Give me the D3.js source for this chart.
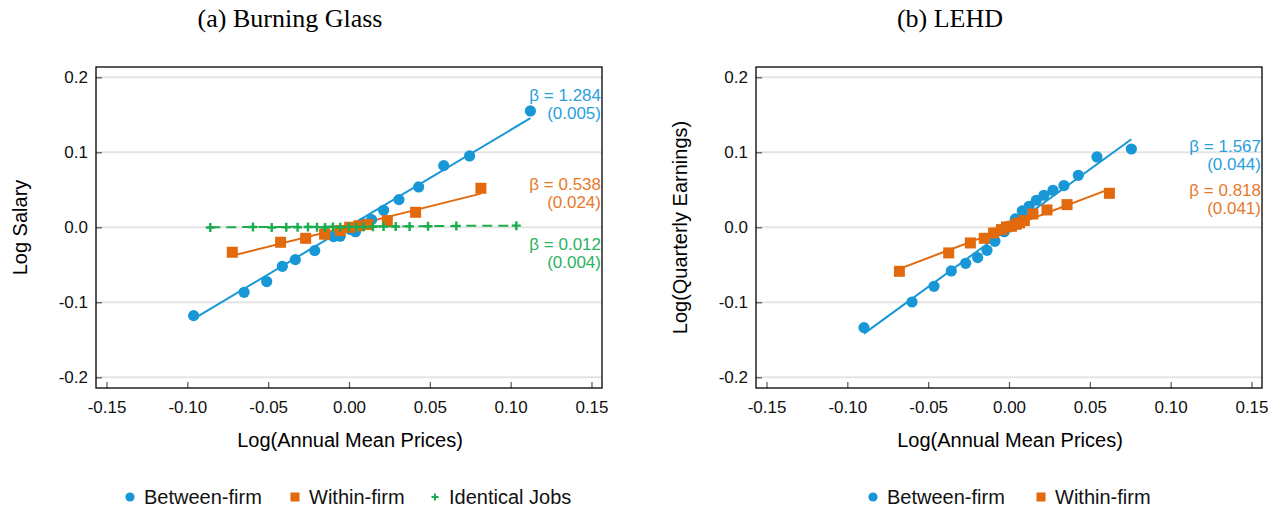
<!DOCTYPE html>
<html>
<head>
<meta charset="utf-8">
<script src="https://cdn.jsdelivr.net/npm/d3@7"></script>
<style>
  body { margin: 0; background: #fff; }
  text { font-family: "Liberation Sans", Arial, sans-serif; }
</style>
</head>
<body>
<script>
// tick values
var xTicks = [-0.15, -0.10, -0.05, 0.00, 0.05, 0.10, 0.15];
var yTicks = [-0.2, -0.1, 0.0, 0.1, 0.2];

// (a) Burning Glass binned scatter
var bgBetween = [[-0.0961,-0.1178],[-0.0649,-0.0867],[-0.0509,-0.0724],[-0.0412,-0.0520],[-0.0332,-0.0431],
  [-0.0212,-0.0311],[-0.0095,-0.0125],[-0.0055,-0.0120],[0.0010,-0.0030],[0.0040,-0.0060],[0.0085,0.0050],
  [0.0140,0.0102],[0.0214,0.0227],[0.0309,0.0369],[0.0431,0.0538],[0.0586,0.0822],[0.0746,0.0951],[0.1122,0.1551]];
var bgWithin = [[-0.0722,-0.0333],[-0.0423,-0.0200],[-0.0268,-0.0147],[-0.0151,-0.0093],[-0.0054,-0.0044],
  [0.0004,0.0000],[0.0060,0.0020],[0.0118,0.0036],[0.0237,0.0089],[0.0412,0.0200],[0.0816,0.0520]];
var bgIdentical = [[-0.0858,-0.0003],[-0.0594,0.0003],[-0.0478,-0.0002],[-0.0388,0.0001],[-0.0318,0.0000],
  [-0.0254,0.0004],[-0.0198,0.0002],[-0.0148,-0.0002],[-0.0099,0.0003],[-0.0054,0.0001],[0.0000,0.0005],
  [0.0045,0.0004],[0.0091,0.0006],[0.0148,0.0007],[0.0214,0.0010],[0.0289,0.0011],[0.0375,0.0012],
  [0.0489,0.0013],[0.0664,0.0018],[0.1035,0.0022]];
var bgBeta = [1.284, 0.538, 0.012];
var bgSE = [0.005, 0.024, 0.004];
var bgIntercept = [0.0014, 0.0010, 0.0010];

// (b) LEHD binned scatter
var lehdBetween = [[-0.0897,-0.1338],[-0.0600,-0.0996],[-0.0464,-0.0787],[-0.0357,-0.0582],[-0.0268,-0.0480],
  [-0.0194,-0.0404],[-0.0136,-0.0307],[-0.0087,-0.0187],[-0.0030,-0.0060],[0.0005,0.0015],[0.0039,0.0111],
  [0.0082,0.0218],[0.0124,0.0280],[0.0169,0.0360],[0.0216,0.0427],[0.0272,0.0493],[0.0340,0.0556],
  [0.0429,0.0693],[0.0544,0.0938],[0.0757,0.1044]];
var lehdWithin = [[-0.0678,-0.0587],[-0.0373,-0.0342],[-0.0239,-0.0209],[-0.0153,-0.0147],[-0.0095,-0.0076],
  [-0.0047,-0.0031],[-0.0016,0.0005],[0.0015,0.0013],[0.0045,0.0040],[0.0066,0.0059],[0.0095,0.0090],
  [0.0148,0.0178],[0.0235,0.0231],[0.0359,0.0302],[0.0621,0.0453]];
var lehdBeta = [1.567, 0.818];
var lehdSE = [0.044, 0.041];
var lehdIntercept = [-0.0012, 0.0000];

var seriesNames = ['Between-firm', 'Within-firm', 'Identical Jobs'];

/**************************************/

var width = 1288, height = 514;
var colors = ['#1897d6', '#e2690c', '#19ad50'];
var labelColors = ['#2aa0dc', '#e8792a', '#2bb35e'];

var svg = d3.select('body').append('svg')
    .attr('width', width)
    .attr('height', height);

function drawPanel(ox, title, titleX, yLabel, series, betas, ses, intercepts, labelY, legendX) {
    var x0 = ox + 96, x1 = ox + 602, y0 = 67, y1 = 388;
    var x = d3.scaleLinear().domain([-0.1565, 0.1565]).range([x0, x1]);
    var y = d3.scaleLinear().domain([-0.2143, 0.2137]).range([y1, y0]);

    var g = svg.append('g');

    // title
    g.append('text')
        .attr('x', titleX).attr('y', 27)
        .attr('text-anchor', 'middle')
        .style('font-family', '"Palatino Linotype", "Liberation Serif", serif')
        .style('font-size', '26px')
        .text(title);

    // gridlines
    g.selectAll('line.grid').data(yTicks).enter().append('line')
        .attr('class', 'grid')
        .attr('x1', x0).attr('x2', x1)
        .attr('y1', function(d) { return y(d); })
        .attr('y2', function(d) { return y(d); })
        .attr('stroke', '#e4e4e4')
        .attr('stroke-width', 2);

    // axes, ticks pointing inward
    var ax = g.append('g')
        .attr('transform', 'translate(0,' + y1 + ')')
        .call(d3.axisBottom(x).tickValues(xTicks).tickSize(-6).tickPadding(13)
            .tickFormat(d3.format('.2f')));
    var ay = g.append('g')
        .attr('transform', 'translate(' + x0 + ',0)')
        .call(d3.axisLeft(y).tickValues(yTicks).tickSize(-6).tickPadding(8)
            .tickFormat(d3.format('.1f')));
    [ax, ay].forEach(function(a) {
        a.select('.domain').remove();
        a.selectAll('line').attr('stroke', '#555').attr('stroke-width', 1.2);
        a.selectAll('text').style('font-size', '17px').attr('fill', '#111')
            .style('font-family', '"Liberation Sans", Arial, sans-serif');
    });
    ax.selectAll('text').text(function(d) { return d3.format('.2f')(d).replace('−', '-'); });
    ay.selectAll('text').text(function(d) { return d3.format('.1f')(d).replace('−', '-'); });

    // frame
    g.append('rect')
        .attr('x', x0).attr('y', y0)
        .attr('width', x1 - x0).attr('height', y1 - y0)
        .attr('fill', 'none')
        .attr('stroke', '#000')
        .attr('stroke-width', 1.3);

    // axis titles
    g.append('text')
        .attr('x', (x0 + x1) / 2 + 1).attr('y', 447)
        .attr('text-anchor', 'middle')
        .style('font-size', '20px')
        .text('Log(Annual Mean Prices)');
    g.append('text')
        .attr('transform', 'translate(' + (ox + 27) + ',' + ((y0 + y1) / 2) + ') rotate(-90)')
        .attr('text-anchor', 'middle')
        .style('font-size', '20px')
        .text(yLabel);

    // fit lines
    series.forEach(function(s, i) {
        var ext = d3.extent(s, function(d) { return d[0]; });
        g.append('line')
            .attr('x1', x(ext[0])).attr('x2', x(ext[1]))
            .attr('y1', y(intercepts[i] + betas[i] * ext[0]))
            .attr('y2', y(intercepts[i] + betas[i] * ext[1]))
            .attr('stroke', colors[i])
            .attr('stroke-width', 2)
            .attr('stroke-dasharray', i === 2 ? '10,6' : null);
    });

    // markers
    series.forEach(function(s, i) {
        var m = g.append('g').attr('fill', colors[i]);
        if (i === 0) {
            m.selectAll('circle').data(s).enter().append('circle')
                .attr('cx', function(d) { return x(d[0]); })
                .attr('cy', function(d) { return y(d[1]); })
                .attr('r', 5.6);
        } else if (i === 1) {
            m.selectAll('rect').data(s).enter().append('rect')
                .attr('x', function(d) { return x(d[0]) - 5.5; })
                .attr('y', function(d) { return y(d[1]) - 5.5; })
                .attr('width', 11).attr('height', 11);
        } else {
            m.selectAll('path').data(s).enter().append('path')
                .attr('d', function(d) {
                    var cx = x(d[0]), cy = y(d[1]);
                    return 'M' + (cx - 4.5) + ',' + cy + 'H' + (cx + 4.5) + 'M' + cx + ',' + (cy - 4.5) + 'V' + (cy + 4.5);
                })
                .attr('stroke', colors[i])
                .attr('stroke-width', 2.4);
        }
    });

    // beta labels
    betas.forEach(function(b, i) {
        g.append('text')
            .attr('x', x1 - 1).attr('y', labelY[i])
            .attr('text-anchor', 'end')
            .attr('fill', labelColors[i])
            .style('font-size', '17px')
            .text('\u03b2 = ' + d3.format('.3f')(b));
        g.append('text')
            .attr('x', x1 - 1).attr('y', labelY[i] + 18)
            .attr('text-anchor', 'end')
            .attr('fill', labelColors[i])
            .style('font-size', '17px')
            .text('(' + d3.format('.3f')(ses[i]) + ')');
    });

    // legend
    var lg = g.append('g').attr('transform', 'translate(0,497)');
    series.forEach(function(s, i) {
        var cx = ox + legendX[i];
        if (i === 0) {
            lg.append('circle').attr('cx', cx).attr('cy', 0).attr('r', 4.6).attr('fill', colors[i]);
        } else if (i === 1) {
            lg.append('rect').attr('x', cx - 4.5).attr('y', -4.5).attr('width', 9).attr('height', 9).attr('fill', colors[i]);
        } else {
            lg.append('path').attr('d', 'M' + (cx - 3.5) + ',0H' + (cx + 3.5) + 'M' + cx + ',-3.5V3.5')
                .attr('stroke', colors[i]).attr('stroke-width', 2);
        }
        lg.append('text')
            .attr('x', cx + 14).attr('y', 7)
            .style('font-size', '20px')
            .attr('fill', '#111')
            .text(seriesNames[i]);
    });
}

drawPanel(0, '(a) Burning Glass', 290, 'Log Salary',
    [bgBetween, bgWithin, bgIdentical], bgBeta, bgSE, bgIntercept, [101, 190, 250], [130, 295, 435]);
drawPanel(660, '(b) LEHD', 950, 'Log(Quarterly Earnings)',
    [lehdBetween, lehdWithin], lehdBeta, lehdSE, lehdIntercept, [152, 196], [213, 381]);
</script>
</body>
</html>
